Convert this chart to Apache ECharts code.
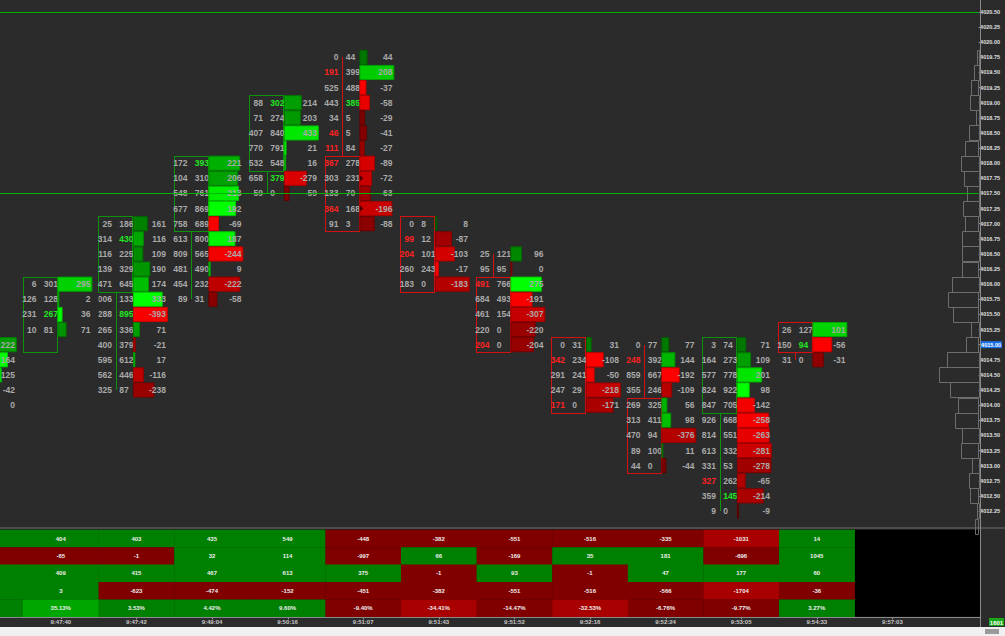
<!DOCTYPE html>
<html><head><meta charset="utf-8">
<script src="https://cdn.jsdelivr.net/npm/echarts@6/dist/echarts.min.js"></script>
<style>html,body{margin:0;padding:0;background:#2b2b2b;overflow:hidden}#c{width:1005px;height:636px}</style>
</head><body><div id="c"></div>
<script>
// ---------- data ----------
const colTimes = ['9:47:40','9:47:42','9:49:04','9:50:16','9:51:07','9:51:43','9:51:52','9:52:16','9:52:24','9:53:05','9:54:33','9:57:03'];

// footprint bars: column (-1 = bar cut by the left edge), top price, rows from top down
const barCol = [-1, 0, 1, 2, 3, 4, 5, 6, 7, 8, 9, 10];
const barTopPrice = [4015.00, 4016.00, 4017.00, 4018.00, 4019.00, 4019.75, 4017.00, 4016.50, 4015.00, 4015.00, 4015.00, 4015.25];
const bidRows = [
  [39, 538, 337, 391, 160],
  [6, 126, 231, 10],
  [25, 314, 116, 139, 471, 1006, 1288, 265, 400, 595, 562, 325],
  [172, 104, 548, 677, 758, 613, 809, 481, 454, 89],
  [88, 71, 407, 770, 532, 658, 59],
  [0, 191, 525, 443, 34, 46, 111, 367, 303, 133, 364, 91],
  [0, 99, 204, 260, 183],
  [25, 95, 491, 684, 461, 220, 204],
  [0, 342, 291, 247, 171],
  [0, 248, 859, 355, 269, 313, 470, 89, 44],
  [3, 164, 577, 824, 847, 926, 814, 613, 331, 327, 359, 9],
  [26, 150, 31]
];
const askRows = [
  [261, 702, 462, 349, 160],
  [301, 128, 267, 81],
  [186, 430, 225, 329, 645, 1339, 895, 336, 379, 612, 446, 87],
  [393, 310, 761, 869, 689, 800, 565, 490, 232, 31],
  [302, 274, 840, 791, 548, 379, 0],
  [44, 399, 488, 385, 5, 5, 84, 278, 231, 70, 168, 3],
  [8, 12, 101, 243, 0],
  [121, 95, 766, 493, 154, 0, 0],
  [31, 234, 241, 29, 0],
  [77, 392, 667, 246, 325, 411, 94, 100, 0],
  [74, 273, 778, 922, 705, 668, 551, 332, 53, 262, 145, 0],
  [127, 94, 0]
];
const deltaRows = [
  [222, 164, 125, -42, 0],
  [295, 2, 36, 71],
  [161, 116, 109, 190, 174, 333, -393, 71, -21, 17, -116, -238],
  [221, 206, 213, 192, -69, 187, -244, 9, -222, -58],
  [214, 203, 433, 21, 16, -279, -59],
  [44, 208, -37, -58, -29, -41, -27, -89, -72, -63, -196, -88],
  [8, -87, -103, -17, -183],
  [96, 0, 275, -191, -307, -220, -204],
  [31, -108, -50, -218, -171],
  [77, 144, -192, -109, 56, 98, -376, 11, -44],
  [71, 109, 201, 98, -142, -258, -263, -281, -278, -65, -214, -9],
  [101, -56, -31]
];
// candle body (open/close range) per bar, null = not visible
const bodyHigh = [null, 4016.00, 4017.00, 4018.00, 4019.00, 4018.00, 4017.00, 4016.00, 4015.00, 4014.00, 4015.00, 4015.25];
const bodyLow  = [null, 4015.00, 4016.00, 4017.00, 4018.00, 4017.00, 4016.00, 4015.00, 4014.00, 4013.00, 4014.00, 4015.00];
const bodyUp   = [null, 1, 1, 1, 1, 0, 0, 0, 0, 0, 1, 0];
// small triangle markers [column, price]
const markerCells = [[4, 4017.75], [4, 4017.25]];

// session volume profile
const profilePrice = [4019.75,4019.50,4019.25,4019.00,4018.75,4018.50,4018.25,4018.00,4017.75,4017.50,4017.25,4017.00,4016.75,4016.50,4016.25,4016.00,4015.75,4015.50,4015.25,4015.00,4014.75,4014.50,4014.25,4014.00,4013.75,4013.50,4013.25,4013.00,4012.75,4012.50,4012.25,4012.00];
const profileVolume = [220,600,960,1140,390,1300,1750,2290,1940,1530,2070,1760,2200,2200,2110,3510,3950,3290,1050,1620,4130,5230,3770,2640,3070,2160,2240,880,1270,1090,220,440];

// horizontal price lines and current price
const priceLines = [4020.50, 4017.50];
const lastPrice = 4015.00;

// bottom table, columns -1..10
const tableDelta    = [469, 404, 403, 435, 549, -448, -382, -551, -516, -335, -1031, 14];
const tableRow2     = [-120, -65, -1, 32, 114, -997, 66, -169, 35, 181, -696, 1045];
const tableMax      = [480, 409, 415, 467, 613, 375, -1, 93, -1, 47, 177, 60];
const tableMin      = [5, 3, -623, -474, -152, -451, -382, -551, -516, -566, -1704, -36];
const tableDeltaPct = [13.79, 35.13, 3.53, 4.42, 9.60, -9.40, -34.41, -14.47, -32.53, -6.76, -9.77, 3.27];
const tableCols     = [-1, 0, 1, 2, 3, 4, 5, 6, 7, 8, 9, 10];

// ---------- build ----------
const BG = '#2b2b2b';
const FONT = 'bold 8.5px "Liberation Sans", Arial, sans-serif';
const X_MIN = -0.3042, X_MAX = 12.6587;
const Y_MIN = 4012.00, Y_MAX = 4020.6984;
const PX_PER_PT = 4 * 499 / 33;

const cellData = [];
const bodyData = [];
for (let b = 0; b < barCol.length; b++) {
  const bids = bidRows[b], asks = askRows[b], ds = deltaRows[b], n = bids.length;
  let maxVol = 0, maxAbs = 0;
  for (let r = 0; r < n; r++) { maxVol = Math.max(maxVol, bids[r] + asks[r]); maxAbs = Math.max(maxAbs, Math.abs(ds[r])); }
  for (let r = 0; r < n; r++) {
    const price = barTopPrice[b] - r * 0.25;
    const hlA = (r + 1 < n && asks[r] > 0 && asks[r] >= 3 * bids[r + 1]) ? 1 : 0;
    const hlB = (r - 1 >= 0 && bids[r] > 0 && bids[r] >= 3 * asks[r - 1]) ? 1 : 0;
    const mk = markerCells.some(m => m[0] === barCol[b] && Math.abs(m[1] - price) < 1e-9) ? 1 : 0;
    cellData.push([barCol[b], price, bids[r], asks[r], ds[r], (bids[r] + asks[r]) / maxVol, Math.abs(ds[r]) / maxAbs, hlB, hlA, mk]);
  }
  if (bodyHigh[b] !== null) {
    bodyData.push([barCol[b], barTopPrice[b], barTopPrice[b] - (n - 1) * 0.25, bodyHigh[b], bodyLow[b], bodyUp[b]]);
  }
}

function rgb(a) { return 'rgb(' + a.join(',') + ')'; }
function barColor(delta, share) {
  const s = Math.pow(share, 0.75);
  return delta > 0 ? [0, Math.round(105 + 150 * s), 0] : [Math.round(115 + 140 * s), 0, 0];
}

function renderBody(params, api) {
  const col = api.value(0), hi = api.value(1), lo = api.value(2), bHi = api.value(3), bLo = api.value(4), up = api.value(5);
  const W = api.size([1, 0])[0], H = api.size([0, 0.25])[1];
  const L = api.coord([col, hi])[0];
  const color = up ? '#0c920c' : '#d41010';
  const xw = Math.round(L + 0.228 * W);
  const yBT = Math.round(api.coord([col, bHi])[1] - H / 2), yBB = Math.round(api.coord([col, bLo])[1] + H / 2);
  const yHi = Math.round(api.coord([col, hi])[1]), yLo = Math.round(api.coord([col, lo])[1]);
  const x0 = Math.round(L), bw = Math.round(0.456 * W);
  const ch = [];
  const st = { fill: color };
  if (yHi < yBT - 1) ch.push({ type: 'rect', shape: { x: xw, y: yHi, width: 1, height: yBT - yHi }, style: st });
  if (yLo > yBB + 1) ch.push({ type: 'rect', shape: { x: xw, y: yBB, width: 1, height: yLo - yBB }, style: st });
  // body outline as four 1px edges
  ch.push({ type: 'rect', shape: { x: x0, y: yBT, width: bw, height: 1 }, style: st });
  ch.push({ type: 'rect', shape: { x: x0, y: yBB, width: bw + 1, height: 1 }, style: st });
  ch.push({ type: 'rect', shape: { x: x0, y: yBT, width: 1, height: yBB - yBT }, style: st });
  ch.push({ type: 'rect', shape: { x: x0 + bw, y: yBT, width: 1, height: yBB - yBT }, style: st });
  return { type: 'group', children: ch };
}

function renderCell(params, api) {
  const col = api.value(0), price = api.value(1), bid = api.value(2), ask = api.value(3), delta = api.value(4);
  const share = api.value(5), frac = api.value(6), hlB = api.value(7), hlA = api.value(8), mk = api.value(9);
  const pt = api.coord([col, price]);
  const L = pt[0], y = pt[1];
  const W = api.size([1, 0])[0], H = api.size([0, 0.25])[1];
  const c = barColor(delta, share);
  const stroke = rgb(c.map(v => Math.round(v * 0.78)));
  const bx = L + 0.463 * W;
  const bw = Math.max(1, frac * 0.45 * W);
  const ch = [];
  const visibleBidAsk = L + 0.45 * W > 0;
  if (visibleBidAsk) ch.push({ type: 'text', style: { text: String(ask), x: L + 0.275 * W, y: y, align: 'left', verticalAlign: 'middle', font: FONT, fill: hlA ? '#22e622' : '#a9a9a9' } });
  ch.push({ type: 'rect', shape: { x: bx, y: y - H / 2 + 0.5, width: bw, height: H - 1 }, style: { fill: rgb(c), stroke: stroke, lineWidth: 1 } });
  if (mk) ch.push({ type: 'polygon', shape: { points: [[bx, y - 3], [bx + 3.5, y], [bx, y + 3]] }, style: { fill: '#4a0000' } });
  if (visibleBidAsk) ch.push({ type: 'text', style: { text: String(bid), x: L + 0.179 * W, y: y, align: 'right', verticalAlign: 'middle', font: FONT, fill: hlB ? '#ff2222' : '#a9a9a9' } });
  if (bid >= 1000) ch.push({ type: 'rect', shape: { x: L - 7, y: y - H / 2, width: 7, height: H }, style: { fill: BG } });
  ch.push({ type: 'text', style: { text: String(delta), x: L + 0.895 * W, y: y, align: 'right', verticalAlign: 'middle', font: FONT, fill: '#a9a9a9' } });
  return { type: 'group', children: ch };
}

const profileData = profilePrice.map((p, i) => [X_MAX, p, profileVolume[i]]);
const pxPerVol = 40 / Math.max.apply(null, profileVolume);
function renderProfile(params, api) {
  const pt = api.coord([api.value(0), api.value(1)]);
  const H = api.size([0, 0.25])[1];
  const w = Math.max(1.5, api.value(2) * pxPerVol);
  return { type: 'rect', shape: { x: Math.round(pt[0] - w) + 0.5, y: Math.round(pt[1] - H / 2) + 0.5, width: Math.round(w), height: Math.round(H) }, style: { fill: 'none', stroke: '#6d6d6d', lineWidth: 1 } };
}

const lineData = priceLines.map(p => [X_MIN, p]);
function renderPriceLine(params, api) {
  const a = api.coord([X_MIN, api.value(1)]), b = api.coord([X_MAX, api.value(1)]);
  return { type: 'rect', shape: { x: a[0], y: Math.round(a[1]), width: b[0] - a[0], height: 1 }, style: { fill: '#00b400' } };
}

const tableRows = [tableDelta, tableRow2, tableMax, tableMin, tableDeltaPct];
const strongLimit = [1000, 1100, 1000, 1000, 30];
const tableData = [];
tableRows.forEach((row, r) => row.forEach((v, i) => tableData.push([tableCols[i], r, v])));
function renderTable(params, api) {
  const col = api.value(0), r = api.value(1), v = api.value(2);
  const p0 = api.coord([col, r]), p1 = api.coord([col + 1, r + 1]);
  const strong = Math.abs(v) >= strongLimit[r];
  const fill = v >= 0 ? (strong ? '#00a600' : '#008000') : (strong ? '#a80000' : '#800000');
  const txt = r === 4 ? v.toFixed(2) + '%' : String(v);
  const ch = [{ type: 'rect', shape: { x: p0[0], y: p0[1], width: p1[0] - p0[0] + 0.3, height: p1[1] - p0[1] + 0.3 }, style: { fill: fill } }];
  if ((p0[0] + p1[0]) / 2 > 12) ch.push({ type: 'text', style: { text: txt, x: (p0[0] + p1[0]) / 2, y: (p0[1] + p1[1]) / 2, align: 'center', verticalAlign: 'middle', font: 'bold 6px "Liberation Sans", Arial, sans-serif', fill: '#eeeeee' } });
  return { type: 'group', children: ch };
}
const timeData = colTimes.map((t, i) => [i, 5, t]);
function renderTime(params, api) {
  const i = params.dataIndex;
  const p = api.coord([api.value(0) + 0.5, 5]);
  return { type: 'group', children: [
    { type: 'line', shape: { x1: Math.round(p[0]) + 0.5, y1: p[1] + 0.5, x2: Math.round(p[0]) + 0.5, y2: p[1] + 2.5 }, style: { stroke: '#9a9a9a', lineWidth: 1 } },
    { type: 'text', style: { text: colTimes[i], x: p[0], y: p[1] + 5.5, align: 'center', verticalAlign: 'middle', font: 'bold 6px "Liberation Sans", Arial, sans-serif', fill: '#c8c8c8' } }
  ] };
}

const chart = echarts.init(document.getElementById('c'), null, { renderer: 'svg', width: 1005, height: 636 });
chart.setOption({
  backgroundColor: BG,
  animation: false,
  grid: [
    { left: 0, right: 25, top: 0, height: (Y_MAX - Y_MIN) * PX_PER_PT },
    { left: 0, right: 25, top: 529.8, height: 87, show: true, backgroundColor: '#000000', borderWidth: 0 }
  ],
  xAxis: [
    { gridIndex: 0, type: 'value', min: X_MIN, max: X_MAX, show: false },
    { gridIndex: 1, type: 'value', min: X_MIN, max: X_MAX, show: false }
  ],
  yAxis: [
    { gridIndex: 0, type: 'value', position: 'right', min: Y_MIN, max: Y_MAX, interval: 0.25,
      axisLine: { show: false, onZero: false }, splitLine: { show: false },
      axisTick: { show: true, length: 2, lineStyle: { color: '#8c8c8c' } },
      axisLabel: { margin: 1.5, fontSize: 5.5, fontWeight: 'bold', fontFamily: '"Liberation Sans", Arial, sans-serif', color: '#e0e0e0',
        showMaxLabel: false, showMinLabel: false,
        formatter: v => (v < 4012.2 || v > 4020.6) ? '' : (Math.abs(v - lastPrice) < 1e-6 ? '{hl|' + v.toFixed(2) + '}' : v.toFixed(2)),
        rich: { hl: { backgroundColor: '#1a6fe6', color: '#ffffff', fontSize: 5.5, fontWeight: 'bold', padding: [1, 1, 0, 1] } } } },
    { gridIndex: 1, type: 'value', min: 0, max: 5, inverse: true, show: false }
  ],
  series: [
    { type: 'custom', name: 'body', xAxisIndex: 0, yAxisIndex: 0, z: 2, renderItem: renderBody, data: bodyData },
    { type: 'custom', name: 'cells', xAxisIndex: 0, yAxisIndex: 0, z: 3, renderItem: renderCell, data: cellData },
    { type: 'custom', name: 'profile', xAxisIndex: 0, yAxisIndex: 0, z: 3, renderItem: renderProfile, data: profileData },
    { type: 'custom', name: 'priceLines', xAxisIndex: 0, yAxisIndex: 0, z: 6, renderItem: renderPriceLine, data: lineData },
    { type: 'custom', name: 'table', xAxisIndex: 1, yAxisIndex: 1, z: 2, renderItem: renderTable, data: tableData },
    { type: 'custom', name: 'time', xAxisIndex: 1, yAxisIndex: 1, z: 2, renderItem: renderTime, data: timeData }
  ],
  graphic: [
    { type: 'rect', z: 1, shape: { x: 0, y: 527, width: 1005, height: 2 }, style: { fill: '#4c4c4c' } },
    { type: 'line', z: 10, shape: { x1: 0, y1: 617.5, x2: 980, y2: 617.5 }, style: { stroke: '#8a8a8a', lineWidth: 1 } },
    { type: 'line', z: 10, shape: { x1: 980.5, y1: 0, x2: 980.5, y2: 627 }, style: { stroke: '#8a8a8a', lineWidth: 1 } },
    { type: 'rect', z: 10, shape: { x: 0, y: 627, width: 1005, height: 9 }, style: { fill: '#f0f0f0' } },
    { type: 'rect', z: 11, shape: { x: 985, y: 629, width: 14, height: 5 }, style: { fill: '#9a9a9a' } },
    { type: 'rect', z: 11, shape: { x: 989, y: 618, width: 15, height: 8 }, style: { fill: '#1aa81a' } },
    { type: 'text', z: 12, style: { text: '1601', x: 996.5, y: 622.5, align: 'center', verticalAlign: 'middle', font: 'bold 6px "Liberation Sans", Arial, sans-serif', fill: '#ffffff' } }
  ]
});
</script>
</body></html>
